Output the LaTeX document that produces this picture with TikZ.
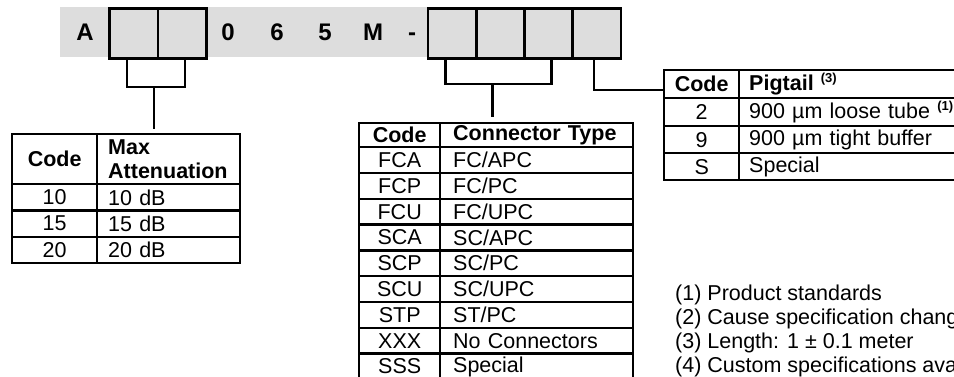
\documentclass[tikz,border=0pt]{standalone}
\usepackage{fontspec}
\setmainfont{Liberation Sans}
\usetikzlibrary{calc}
\definecolor{bandgray}{RGB}{221,221,221}
\newcommand\supx[1]{\raisebox{8pt}{\fontsize{13}{13}\selectfont\bfseries #1}}
\begin{document}
\begin{tikzpicture}[x=1pt,y=-1pt,
  every node/.style={font=\fontsize{21.5}{23.3}\selectfont},
  conn/.style={line width=2.4pt},
  cellc/.style 2 args={draw,line width=2.4pt,anchor=north west,inner sep=0pt,minimum width=#1pt,minimum height=#2pt,align=center},
  cellt/.style n args={3}{draw,line width=2.4pt,anchor=north west,inner xsep=#3pt,inner ysep=0pt,text width=#1pt,minimum height=#2pt,align=left},
  hd/.style={font=\fontsize{21.5}{23.3}\selectfont\bfseries},
  box/.style={draw,line width=2.6pt,fill=bandgray,anchor=north west,minimum width=48.5pt,minimum height=50pt,inner sep=0pt},
  letter/.style={font=\fontsize{24}{24}\selectfont\bfseries,inner sep=0pt,anchor=base},
  note/.style={anchor=base west,inner sep=0pt},
]
\useasboundingbox (0,0) rectangle (954,377);
\clip (0,0) rectangle (954,377);

% top band
\node[fill=bandgray,anchor=north west,minimum width=560pt,minimum height=50pt,inner sep=0pt] (band) at (60,7.3) {};
\node[box] (b1) at (108,7.3) {};
\node[box] (b2) at (156.5,7.3) {};
\node[box] (c1) at (426.5,7.3) {};
\node[box] (c2) at (475,7.3) {};
\node[box] (c3) at (523,7.3) {};
\node[box] (c4) at (571,7.3) {};
\node[letter] (lA) at (85,41) {A};
\node[letter] (l0) at (228,41) {0};
\node[letter] (l6) at (277,41) {6};
\node[letter] (l5) at (325,41) {5};
\node[letter] (lM) at (373,41) {M};
\node[letter] (lD) at (412,41) {-};

% left table
\node[cellc={85}{50},hd] (lt-h1) at (11,133) {Code};
\node[cellt={121}{50}{11},hd] (lt-h2) at (96,133) {Max\\Attenuation};
\node[cellc={85}{26.33}] (lt-a1) at (11,183) {10};
\node[cellt={121}{26.33}{11}] (lt-a2) at (96,183) {10 dB};
\node[cellc={85}{26.33}] (lt-b1) at (11,209.33) {15};
\node[cellt={121}{26.33}{11}] (lt-b2) at (96,209.33) {15 dB};
\node[cellc={85}{26.33}] (lt-c1) at (11,235.67) {20};
\node[cellt={121}{26.33}{11}] (lt-c2) at (96,235.67) {20 dB};

% connector table
\node[cellc={81}{24.3},hd] (ct-h1) at (358,121.7) {Code};
\node[cellt={167}{24.3}{13},hd] (ct-h2) at (439,121.7) {Connector Type};
\foreach \c/\t [count=\i from 0] in {FCA/FC\slash APC,FCP/FC\slash PC,FCU/FC\slash UPC,SCA/SC\slash APC,SCP/SC\slash PC,SCU/SC\slash UPC,STP/ST\slash PC,XXX/No Connectors,SSS/Special}{
  \node[cellc={81}{25.8}] (ct-\i a) at (358,146+25.8*\i) {\c};
  \node[cellt={167}{25.8}{13}] (ct-\i b) at (439,146+25.8*\i) {\t};
}

% pigtail table
\node[cellc={75}{28},hd] (pt-h1) at (663,69) {Code};
\node[cellt={317}{28}{10},hd] (pt-h2) at (738,69) {Pigtail \supx{(3)}};
\node[cellc={75}{28}] (pt-a1) at (663,97) {2};
\node[cellt={317}{28}{10}] (pt-a2) at (738,97) {900 µm loose tube \supx{(1)}};
\node[cellc={75}{27}] (pt-b1) at (663,125) {9};
\node[cellt={317}{27}{10}] (pt-b2) at (738,125) {900 µm tight buffer};
\node[cellc={75}{27}] (pt-c1) at (663,152) {S};
\node[cellt={317}{27}{10}] (pt-c2) at (738,152) {Special};

% connectors
\coordinate (lbar) at (154,87);
\draw[conn] ($(b1.south)+(-6.5,0)$) |- (lbar) -| ($(b2.south)+(3,0)$);
\draw[conn] (lbar) -- ($(lbar |- lt-h1.north)+(0,-4)$);
\coordinate (mbar) at (492.6,84);
\draw[conn] ($(c1.south)+(-6.75,0)$) |- (mbar) -| ($(c3.south)+(3,0)$);
\draw[conn] (mbar) -- ($(mbar |- ct-h1.north)+(0,-4.5)$);
\draw[conn] ($(c4.south)+(-2.5,0)$) |- ($(pt-h1.west)+(0,6)$);

% notes
\node[note] (n1) at (675,300) {(1) Product standards};
\node[note] (n2) at (675,324.2) {(2) Cause specification chang};
\node[note] (n3) at (675,348.4) {(3) Length: 1 ± 0.1 meter};
\node[note] (n4) at (675,372.6) {(4) Custom specifications ava};
\end{tikzpicture}
\end{document}
